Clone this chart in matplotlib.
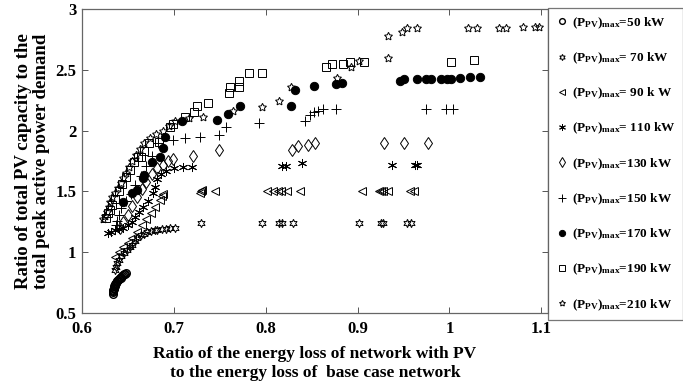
import matplotlib
matplotlib.use("Agg")
import matplotlib.pyplot as plt
from matplotlib.ticker import FuncFormatter

plt.rcParams['font.family'] = ['Liberation Serif', 'DejaVu Serif']
plt.rcParams['font.weight'] = 'bold'
plt.rcParams['mathtext.fontset'] = 'custom'
plt.rcParams['mathtext.rm'] = 'Liberation Serif:bold'
plt.rcParams['mathtext.it'] = 'Liberation Serif:bold'
plt.rcParams['mathtext.bf'] = 'Liberation Serif:bold'

# ---------------- data ----------------
x50 = [0.634, 0.634, 0.634, 0.634, 0.635, 0.635, 0.635, 0.635, 0.636, 0.636, 0.636, 0.637,
       0.637, 0.638, 0.638, 0.639, 0.640, 0.641, 0.642, 0.643, 0.644, 0.645, 0.646, 0.647,
       0.648]
y50 = [0.66, 0.67, 0.68, 0.69, 0.70, 0.705, 0.71, 0.72, 0.725, 0.73, 0.74, 0.745,
       0.75, 0.76, 0.765, 0.77, 0.78, 0.785, 0.79, 0.80, 0.805, 0.81, 0.82, 0.825,
       0.83]

x70 = [0.636, 0.637, 0.638, 0.640, 0.643, 0.646, 0.649, 0.652, 0.655, 0.658, 0.660, 0.664,
       0.667, 0.671, 0.675, 0.679, 0.682, 0.687, 0.692, 0.696, 0.701, 0.730,
       0.796, 0.815, 0.818, 0.830, 0.901, 0.926, 0.928, 0.954, 0.958]
y70 = [0.85, 0.88, 0.91, 0.94, 0.97, 0.99, 1.02, 1.04, 1.06, 1.09, 1.12, 1.14,
       1.15, 1.17, 1.175, 1.18, 1.183, 1.19, 1.195, 1.20, 1.20, 1.24,
       1.24, 1.24, 1.24, 1.24, 1.24, 1.24, 1.24, 1.24, 1.24]

x90 = [0.636, 0.640, 0.645, 0.650, 0.655, 0.660, 0.665, 0.670, 0.675, 0.680, 0.685, 0.687,
       0.688, 0.728, 0.730, 0.731, 0.745, 0.801, 0.808, 0.813, 0.817, 0.823, 0.837,
       0.905, 0.923, 0.926, 0.928, 0.933, 0.957, 0.961]
y90 = [0.96, 1.00, 1.04, 1.08, 1.12, 1.17, 1.22, 1.27, 1.32, 1.37, 1.43, 1.46,
       1.48, 1.49, 1.50, 1.51, 1.50, 1.50, 1.50, 1.50, 1.50, 1.50, 1.50,
       1.50, 1.50, 1.50, 1.50, 1.50, 1.50, 1.50]

x110 = [0.628, 0.632, 0.636, 0.640, 0.645, 0.650, 0.655, 0.658, 0.662, 0.666, 0.672, 0.677,
        0.679, 0.682, 0.686, 0.692, 0.700, 0.710, 0.720, 0.818, 0.822, 0.839, 0.937,
        0.962, 0.965]
y110 = [1.16, 1.17, 1.18, 1.19, 1.20, 1.22, 1.25, 1.29, 1.33, 1.37, 1.42, 1.49,
        1.54, 1.60, 1.64, 1.67, 1.69, 1.70, 1.70, 1.71, 1.71, 1.73, 1.72,
        1.72, 1.72]

x130 = [0.641, 0.645, 0.650, 0.655, 0.660, 0.665, 0.670, 0.676, 0.682, 0.688, 0.694, 0.699,
        0.721, 0.749, 0.829, 0.835, 0.846, 0.854, 0.929, 0.951, 0.977]
y130 = [1.20, 1.25, 1.31, 1.38, 1.45, 1.52, 1.58, 1.64, 1.69, 1.72, 1.75, 1.77,
        1.79, 1.84, 1.84, 1.87, 1.88, 1.90, 1.90, 1.90, 1.90]

x150 = [0.637, 0.638, 0.640, 0.643, 0.648, 0.653, 0.658, 0.664, 0.670, 0.676, 0.683, 0.699,
        0.712, 0.729, 0.749, 0.757, 0.793, 0.843, 0.848, 0.853, 0.857, 0.862, 0.877,
        0.974, 0.996, 1.004]
y150 = [1.22, 1.26, 1.31, 1.36, 1.42, 1.48, 1.55, 1.63, 1.71, 1.79, 1.90, 1.92,
        1.94, 1.95, 1.96, 2.03, 2.06, 2.08, 2.13, 2.15, 2.16, 2.18, 2.18,
        2.18, 2.18, 2.18]

x170 = [0.645, 0.654, 0.660, 0.666, 0.668, 0.676, 0.685, 0.688, 0.690, 0.709, 0.747, 0.759,
        0.772, 0.828, 0.832, 0.853, 0.877, 0.883, 0.946, 0.951, 0.965, 0.974, 0.980,
        0.991, 0.997, 1.002, 1.011, 1.022, 1.033]
y170 = [1.41, 1.49, 1.51, 1.61, 1.635, 1.74, 1.78, 1.86, 1.95, 2.08, 2.09, 2.14,
        2.20, 2.20, 2.33, 2.37, 2.38, 2.39, 2.41, 2.42, 2.42, 2.42, 2.42,
        2.42, 2.42, 2.42, 2.43, 2.44, 2.44]

x190 = [0.626, 0.628, 0.630, 0.633, 0.636, 0.640, 0.644, 0.648, 0.652, 0.657, 0.661, 0.664,
        0.667, 0.673, 0.684, 0.696, 0.699, 0.712, 0.722, 0.725, 0.737, 0.760, 0.761,
        0.771, 0.771, 0.782, 0.796, 0.866, 0.872, 0.884, 0.892, 0.907, 1.002, 1.027]
y190 = [1.28, 1.32, 1.35, 1.39, 1.44, 1.50, 1.56, 1.62, 1.68, 1.74, 1.78, 1.78,
        1.83, 1.90, 1.91, 2.03, 2.05, 2.11, 2.15, 2.20, 2.23, 2.31, 2.36,
        2.36, 2.41, 2.47, 2.47, 2.52, 2.55, 2.55, 2.56, 2.56, 2.56, 2.58]

x210 = [0.623, 0.625, 0.627, 0.629, 0.631, 0.633, 0.636, 0.639, 0.642, 0.645, 0.648, 0.651,
        0.655, 0.659, 0.663, 0.668, 0.674, 0.681, 0.688, 0.695, 0.701, 0.717, 0.732,
        0.764, 0.796, 0.815, 0.828, 0.878, 0.893, 0.901, 0.933, 0.933, 0.948, 0.954,
        0.965, 1.020, 1.030, 1.054, 1.062, 1.080, 1.093, 1.097]
y210 = [1.27, 1.30, 1.33, 1.37, 1.41, 1.45, 1.49, 1.53, 1.57, 1.61, 1.65, 1.70,
        1.75, 1.80, 1.85, 1.90, 1.94, 1.97, 2.00, 2.04, 2.08, 2.10, 2.11,
        2.16, 2.19, 2.24, 2.36, 2.43, 2.52, 2.57, 2.60, 2.78, 2.81, 2.84,
        2.84, 2.84, 2.84, 2.84, 2.84, 2.85, 2.85, 2.85]

labels = [r'$(P_{PV})_{max}$=50 kW', r'$(P_{PV})_{max}$= 70 kW', r'$(P_{PV})_{max}$= 90 k W',
          r'$(P_{PV})_{max}$= 110 kW', r'$(P_{PV})_{max}$=130 kW', r'$(P_{PV})_{max}$=150 kW',
          r'$(P_{PV})_{max}$=170 kW', r'$(P_{PV})_{max}$=190 kW', r'$(P_{PV})_{max}$=210 kW']
xs = [x50, x70, x90, x110, x130, x150, x170, x190, x210]
ys = [y50, y70, y90, y110, y130, y150, y170, y190, y210]

markers = ['o', (6, 1, 0), '<', (6, 2, 0), 'd', '+', 'o', 's', (5, 1, 0)]
msizes = [5.5, 6, 5.5, 6.5, 6.5, 7, 6, 6, 6]
filled = [False, False, False, False, False, False, True, False, False]
mew = [1.0, 0.7, 0.7, 0.7, 0.7, 0.7, 0.7, 0.7, 0.7]

fig = plt.figure(figsize=(6.83, 3.87), dpi=100)
ax = fig.add_axes([0.120, 0.191, 0.682, 0.786])

for x, y, m, ms, f, w, lab in zip(xs, ys, markers, msizes, filled, mew, labels):
    ax.plot(x, y, linestyle='none', marker=m, markersize=ms,
            markerfacecolor='k' if f else 'none', markeredgecolor='k',
            markeredgewidth=w, label=lab)

ax.set_xlim(0.6, 1.107)
ax.set_ylim(0.5, 3.0)
ax.set_xticks([0.6, 0.7, 0.8, 0.9, 1.0, 1.1])
ax.set_yticks([0.5, 1.0, 1.5, 2.0, 2.5, 3.0])
fmt = FuncFormatter(lambda v, p: ('%g' % round(v, 2)))
ax.xaxis.set_major_formatter(fmt)
ax.yaxis.set_major_formatter(fmt)
ax.tick_params(direction='in', top=True, right=True, length=4, width=0.7,
               labelsize=12, colors='#555555', labelcolor='black')
ax.tick_params(axis='x', pad=6)
ax.tick_params(axis='y', pad=4)
for lab in ax.get_xticklabels() + ax.get_yticklabels():
    lab.set_fontweight('bold')
for s in ax.spines.values():
    s.set_color('#666666')
    s.set_linewidth(0.9)

ax.set_xlabel('Ratio of the energy loss of network with PV\nto the energy loss of  base case network',
              fontsize=12.5, fontweight='bold', labelpad=6, linespacing=1.3)
ax.set_ylabel('Ratio of total PV capacity to the\ntotal peak active power demand',
              fontsize=13.5, fontweight='bold', labelpad=4, linespacing=1.1)

leg = fig.legend(loc='upper left', bbox_to_anchor=(548/683, 1 - 8/387),
                 frameon=True, fancybox=False, edgecolor='#555555',
                 prop={'family': 'Liberation Serif', 'weight': 'bold', 'size': 9.5},
                 labelspacing=1.5, handletextpad=0.3, handlelength=1.0,
                 borderpad=0.55, borderaxespad=0, markerscale=0.75)
leg.get_frame().set_linewidth(0.9)

fig.savefig('out.png', dpi=100)
